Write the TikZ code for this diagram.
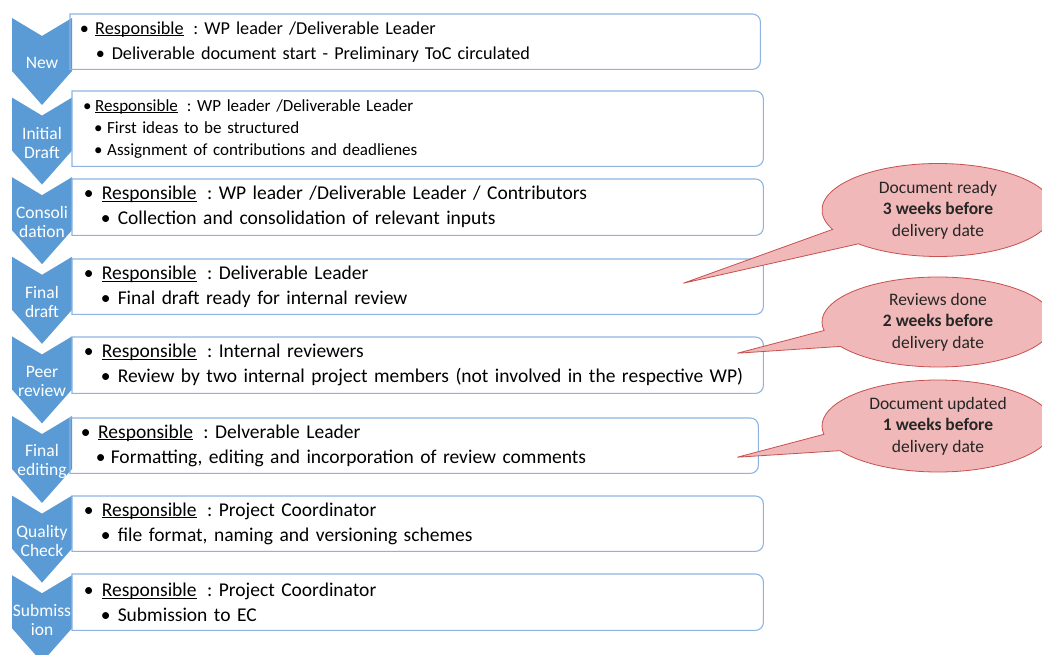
\documentclass[tikz,border=0pt]{standalone}
\usepackage{fontspec}
\setmainfont{Carlito}
\usetikzlibrary{shapes.callouts, positioning}
\frenchspacing

\definecolor{chevblue}{HTML}{5B9BD5}
\definecolor{boxblue}{HTML}{8DB3E2}
\definecolor{notefill}{HTML}{F0B8B8}
\definecolor{notered}{HTML}{C8504F}
\definecolor{notetext}{HTML}{262626}

% bullet line: indent, bullet box, text
\newcommand{\itm}[3]{\hspace*{#1}\makebox[#2][l]{\textbullet}#3}
\newcommand{\resp}[1]{\underline{\smash{Responsible}}\hspace{0.2em} : #1}
\newcommand{\widesp}{\spaceskip=7pt\relax}

\begin{document}
\begin{tikzpicture}[x=1pt, y=-1pt,
  chevron/.style={fill=chevblue},
  chevtext/.style={text=white, align=center, inner sep=0pt,
    font=\fontsize{17.5}{19}\selectfont},
  boxnode/.style={anchor=north west, align=left, inner ysep=0pt,
    inner xsep=11.6pt, text width=667.8pt, minimum height=55pt,
    font=\fontsize{19.5}{25}\selectfont\widesp},
  boxline/.style={draw=boxblue, line width=1.1pt},
  note/.style={ellipse callout, fill=notefill, draw=notered, line width=0.8pt,
    minimum width=232pt, minimum height=93pt, inner sep=0pt, align=center,
    text=notetext, callout pointer arc=22,
    font=\fontsize{17.5}{21.5}\selectfont}]
  \useasboundingbox (0,0) rectangle (1042,655);

  % steps on the left
  \foreach \i/\t/\lab in {1/18/New, 2/97.6/{Initial\\Draft},
      3/177.2/{Consoli\\dation}, 4/256.8/{Final\\draft},
      5/336.4/{Peer\\review}, 6/416/{Final\\editing},
      7/495.6/{Quality\\Check}, 8/575.2/{Submiss\\ion}} {
    \fill[chevron] (12,\t) -- (42,\t+18) -- (72,\t) -- (72,\t+53)
      -- (42,\t+87) -- (12,\t+53) -- cycle;
    \node[chevtext] (c\i) at (42,\t+45) {\lab};
  }

  \node[boxnode, inner xsep=9.6pt, text width=670.8pt,
    font=\fontsize{18.2}{25}\selectfont] (b1) at (70,14)
    {\itm{0pt}{15.4pt}{\resp{WP leader /Deliverable Leader}}\\
     \itm{16pt}{16pt}{Deliverable document start - Preliminary ToC circulated}};
  \node[boxnode, inner xsep=11pt, text width=669pt, minimum height=75pt,
    font=\fontsize{17}{22}\selectfont] (b2) at (72,91)
    {\itm{0pt}{12pt}{\resp{WP leader /Deliverable Leader}}\\
     \itm{11pt}{13pt}{First ideas to be structured}\\
     \itm{11pt}{13pt}{Assignment of contributions and deadlienes}};
  \node[boxnode, minimum height=56pt] (b3) at (72,179)
    {\itm{0pt}{18pt}{\resp{WP leader /Deliverable Leader / Contributors}}\\
     \itm{17pt}{17pt}{Collection and consolidation of relevant inputs}};
  \node[boxnode] (b4) at (72,259)
    {\itm{0pt}{18pt}{\resp{Deliverable Leader}}\\
     \itm{17pt}{17pt}{Final draft ready for internal review}};
  \node[boxnode, minimum height=56pt] (b5) at (72,337)
    {\itm{0pt}{18pt}{\resp{Internal reviewers}}\\
     \itm{17pt}{17pt}{Review by two internal project members (not involved in the respective WP)}};
  \node[boxnode, inner xsep=10.6pt, text width=666.8pt] (b6) at (70,418)
    {\itm{0pt}{17.4pt}{\resp{Delverable Leader}}\\
     \itm{15pt}{15pt}{Formatting, editing and incorporation of review comments}};
  \node[boxnode] (b7) at (72,496)
    {\itm{0pt}{18pt}{\resp{Project Coordinator}}\\
     \itm{17pt}{17pt}{file format, naming and versioning schemes}};
  \node[boxnode, minimum height=56pt] (b8) at (72,574)
    {\itm{0pt}{18pt}{\resp{Project Coordinator}}\\
     \itm{17pt}{17pt}{Submission to EC}};

  % frames, round on the right only
  \foreach \b in {b1,b2,b3,b4,b5,b6,b7,b8}
    \draw[boxline] (\b.north west) -- ([xshift=-8pt]\b.north east)
      arc[start angle=90, end angle=0, radius=8pt]
      -- ([yshift=8pt]\b.south east)
      arc[start angle=0, end angle=-90, radius=8pt]
      -- (\b.south west) -- cycle;

  % deadlines
  \node[note, callout absolute pointer={([xshift=-80pt,yshift=3.5pt]b4.east)}]
    (n1) at (938,210) {Document ready\\\textbf{3 weeks before}\\delivery date};
  \node[note, callout absolute pointer={([xshift=-26pt,yshift=12pt]b5.east)},
    minimum height=90pt] (n2) at (938,322)
    {Reviews done\\\textbf{2 weeks before}\\delivery date};
  \node[note, callout absolute pointer={([xshift=-21pt,yshift=-11.5pt]b6.east)},
    minimum height=92pt] (n3) at (938,426)
    {Document updated\\\textbf{1 weeks before}\\delivery date};
\end{tikzpicture}
\end{document}
